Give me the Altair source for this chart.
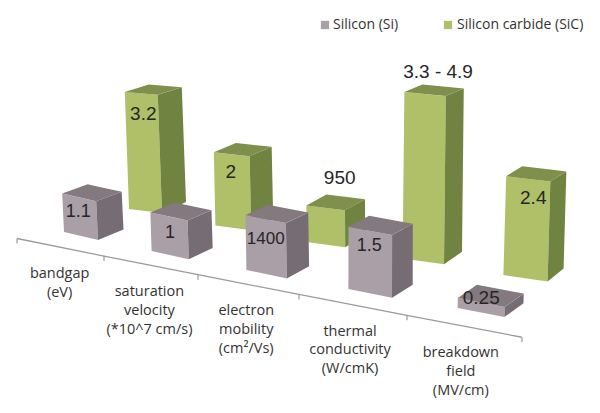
import altair as alt
import pandas as pd

# ---------- values ----------
categories = [
    ["bandgap", "(eV)"],
    ["saturation", "velocity", "(*10^7 cm/s)"],
    ["electron", "mobility", "(cm²/Vs)"],
    ["thermal", "conductivity", "(W/cmK)"],
    ["breakdown", "field", "(MV/cm)"],
]
series_names = ["Silicon (Si)", "Silicon carbide (SiC)"]
si_labels = ["1.1", "1", "1400", "1.5", "0.25"]
sic_labels = ["3.2", "2", "950", "3.3 - 4.9", "2.4"]
# drawn bar heights (drawing units)
si_heights = [1.05, 1.05, 1.5, 1.7, 0.27]
sic_heights = [3.2, 2.0, 1.0, 4.55, 2.7]

# ---------- styles ----------
STYLE = {
    "si": dict(front="#ab9fa7", top="#83797f", side="#766c73"),
    "sic": dict(front="#afc068", top="#7f8f4c", side="#708341"),
}
AXIS_COLOR = "#9b9b9b"
LABEL_FONT = "Open Sans"
VALUE_FONT = "Liberation Sans"
UNIT = 36.6


# ---------- oblique perspective projection of the bar scene ----------
def project(series, i):
    """Base corner, front-edge vector and depth vector of a bar slot."""
    if series == "si":
        return dict(bx=64 + 84 * i + 3.6 * i * i, by=232 + 19 * i,
                    w=34 + 3.2 * i, wy=8 + 0.25 * i,
                    sx=25.5 - 1.6 * i, sy=-10.5 - 0.8 * i)
    return dict(bx=129 + 84 * i + 2.4 * i * i, by=209 + 16.5 * i,
                w=33 + 2.8 * i, wy=4 + 0.6 * i,
                sx=24 - 2 * i, sy=-11 - 0.5 * i)


def bar_faces(series, i, value):
    p = project(series, i)
    h = value * UNIT
    lean = (p["bx"] - 340) * h * 1.7e-4
    bl = (p["bx"], p["by"])
    br = (bl[0] + p["w"], bl[1] + p["wy"])
    bb = (br[0] + p["sx"], br[1] + p["sy"])
    tl = (bl[0] + lean, bl[1] - h)
    tr = (tl[0] + p["w"], tl[1] + p["wy"] - 0.01 * h)
    dy = p["sy"] + 0.03 * h
    tb = (tr[0] + p["sx"], tr[1] + dy)
    tk = (tl[0] + p["sx"], tl[1] + dy)
    return {"front": [bl, br, tr, tl], "side": [br, bb, tb, tr], "top": [tl, tr, tb, tk]}


def polygon_rows(name, pts, color):
    """Convex polygon as an area: lower and upper boundary at every vertex x."""
    rows = []
    n = len(pts)
    for x in sorted({p[0] for p in pts}):
        ys = []
        for k in range(n):
            (x0, y0), (x1, y1) = pts[k], pts[(k + 1) % n]
            if min(x0, x1) <= x <= max(x0, x1):
                if x0 == x1:
                    ys += [y0, y1]
                else:
                    ys.append(y0 + (y1 - y0) * (x - x0) / (x1 - x0))
        rows.append(dict(poly=name, x=x, y=min(ys), y2=max(ys), color=color))
    return rows


def axis_point(t):
    return 17 + 83.5 * t + 3.5 * t * t, 238.5 + 17 * t + 0.55 * t * t


poly_rows, value_rows = [], []
# nudge of value labels from the top-centre of the front face
NUDGE = {"3.2": (2, 21), "2": (-1, 18), "950": (14, -30), "3.3 - 4.9": (13, -22), "2.4": (5, 19),
         "1.1": (-1, 15), "1": (1, 16), "1400": (0, 20), "1.5": (-1, 15), "0.25": (0, -5)}
SMALL = {"1400": 17, "1.5": 18, "1.1": 18, "1": 18}
for series, heights, labels in [("sic", sic_heights, sic_labels), ("si", si_heights, si_labels)]:
    for i, (v, lab) in enumerate(zip(heights, labels)):
        faces = bar_faces(series, i, v)
        for face, pts in faces.items():
            poly_rows += polygon_rows(f"{series}-{i}-{face}", pts, STYLE[series][face])
        tl, tr = faces["front"][3], faces["front"][2]
        dx, dy = NUDGE[lab]
        value_rows.append(dict(x=(tl[0] + tr[0]) / 2 + dx, y=(tl[1] + tr[1]) / 2 + dy, text=lab,
                               size=SMALL.get(lab, 19)))

axis_rows = [dict(x=axis_point(t)[0], y=axis_point(t)[1]) for t in range(6)]
tick_rows = [dict(x=r["x"], y=r["y"], y2=r["y"] + 5) for r in axis_rows]

label_rows = []
for i, lines in enumerate(categories):
    cx, cy = axis_point(i + 0.5)
    for j, line in enumerate(lines):
        label_rows.append(dict(x=cx - 0.7 * i, y=cy + 27 + j * 18.7, text=line))

legend_squares = [dict(x=325, y=25, color=STYLE["si"]["front"]),
                  dict(x=448, y=25, color=STYLE["sic"]["front"])]
legend_text = [dict(x=333, y=25, text=series_names[0]), dict(x=457, y=25, text=series_names[1])]

# ---------- chart ----------
X = alt.X("x:Q", scale=alt.Scale(domain=[8, 592], nice=False, zero=False), axis=None)
Y = alt.Y("y:Q", scale=alt.Scale(domain=[405, 8], nice=False, zero=False), axis=None)


def df(rows):
    return alt.Data(values=rows)


bars = alt.Chart(df(poly_rows)).mark_area(interpolate="linear", opacity=1).encode(
    x=X, y=Y, y2="y2:Q", color=alt.Color("color:N", scale=None), detail="poly:N")
axis_line = alt.Chart(df(axis_rows)).mark_line(color=AXIS_COLOR, strokeWidth=1.3).encode(x=X, y=Y)
ticks = alt.Chart(df(tick_rows)).mark_rule(color=AXIS_COLOR, strokeWidth=1.2).encode(x=X, y=Y, y2="y2:Q")
value_text = alt.Chart(df(value_rows)).mark_text(font=VALUE_FONT, color="#262626").encode(
    x=X, y=Y, text="text:N", size=alt.Size("size:Q", scale=None))
cat_text = alt.Chart(df(label_rows)).mark_text(font=LABEL_FONT, fontSize=14.5, color="#333333").encode(
    x=X, y=Y, text="text:N")
leg_sq = alt.Chart(df(legend_squares)).mark_square(size=68, opacity=1).encode(
    x=X, y=Y, color=alt.Color("color:N", scale=None))
leg_tx = alt.Chart(df(legend_text)).mark_text(font=LABEL_FONT, fontSize=14, color="#333333", align="left").encode(
    x=X, y=Y, text="text:N")

chart = (
    alt.layer(axis_line, ticks, bars, value_text, cat_text, leg_sq, leg_tx)
    .properties(width=584, height=397, padding=0, autosize=alt.AutoSizeParams(type="none"), background="white")
    .configure_view(stroke=None)
)
chart.save("out.html", embed_options={"renderer": "svg", "actions": False})
